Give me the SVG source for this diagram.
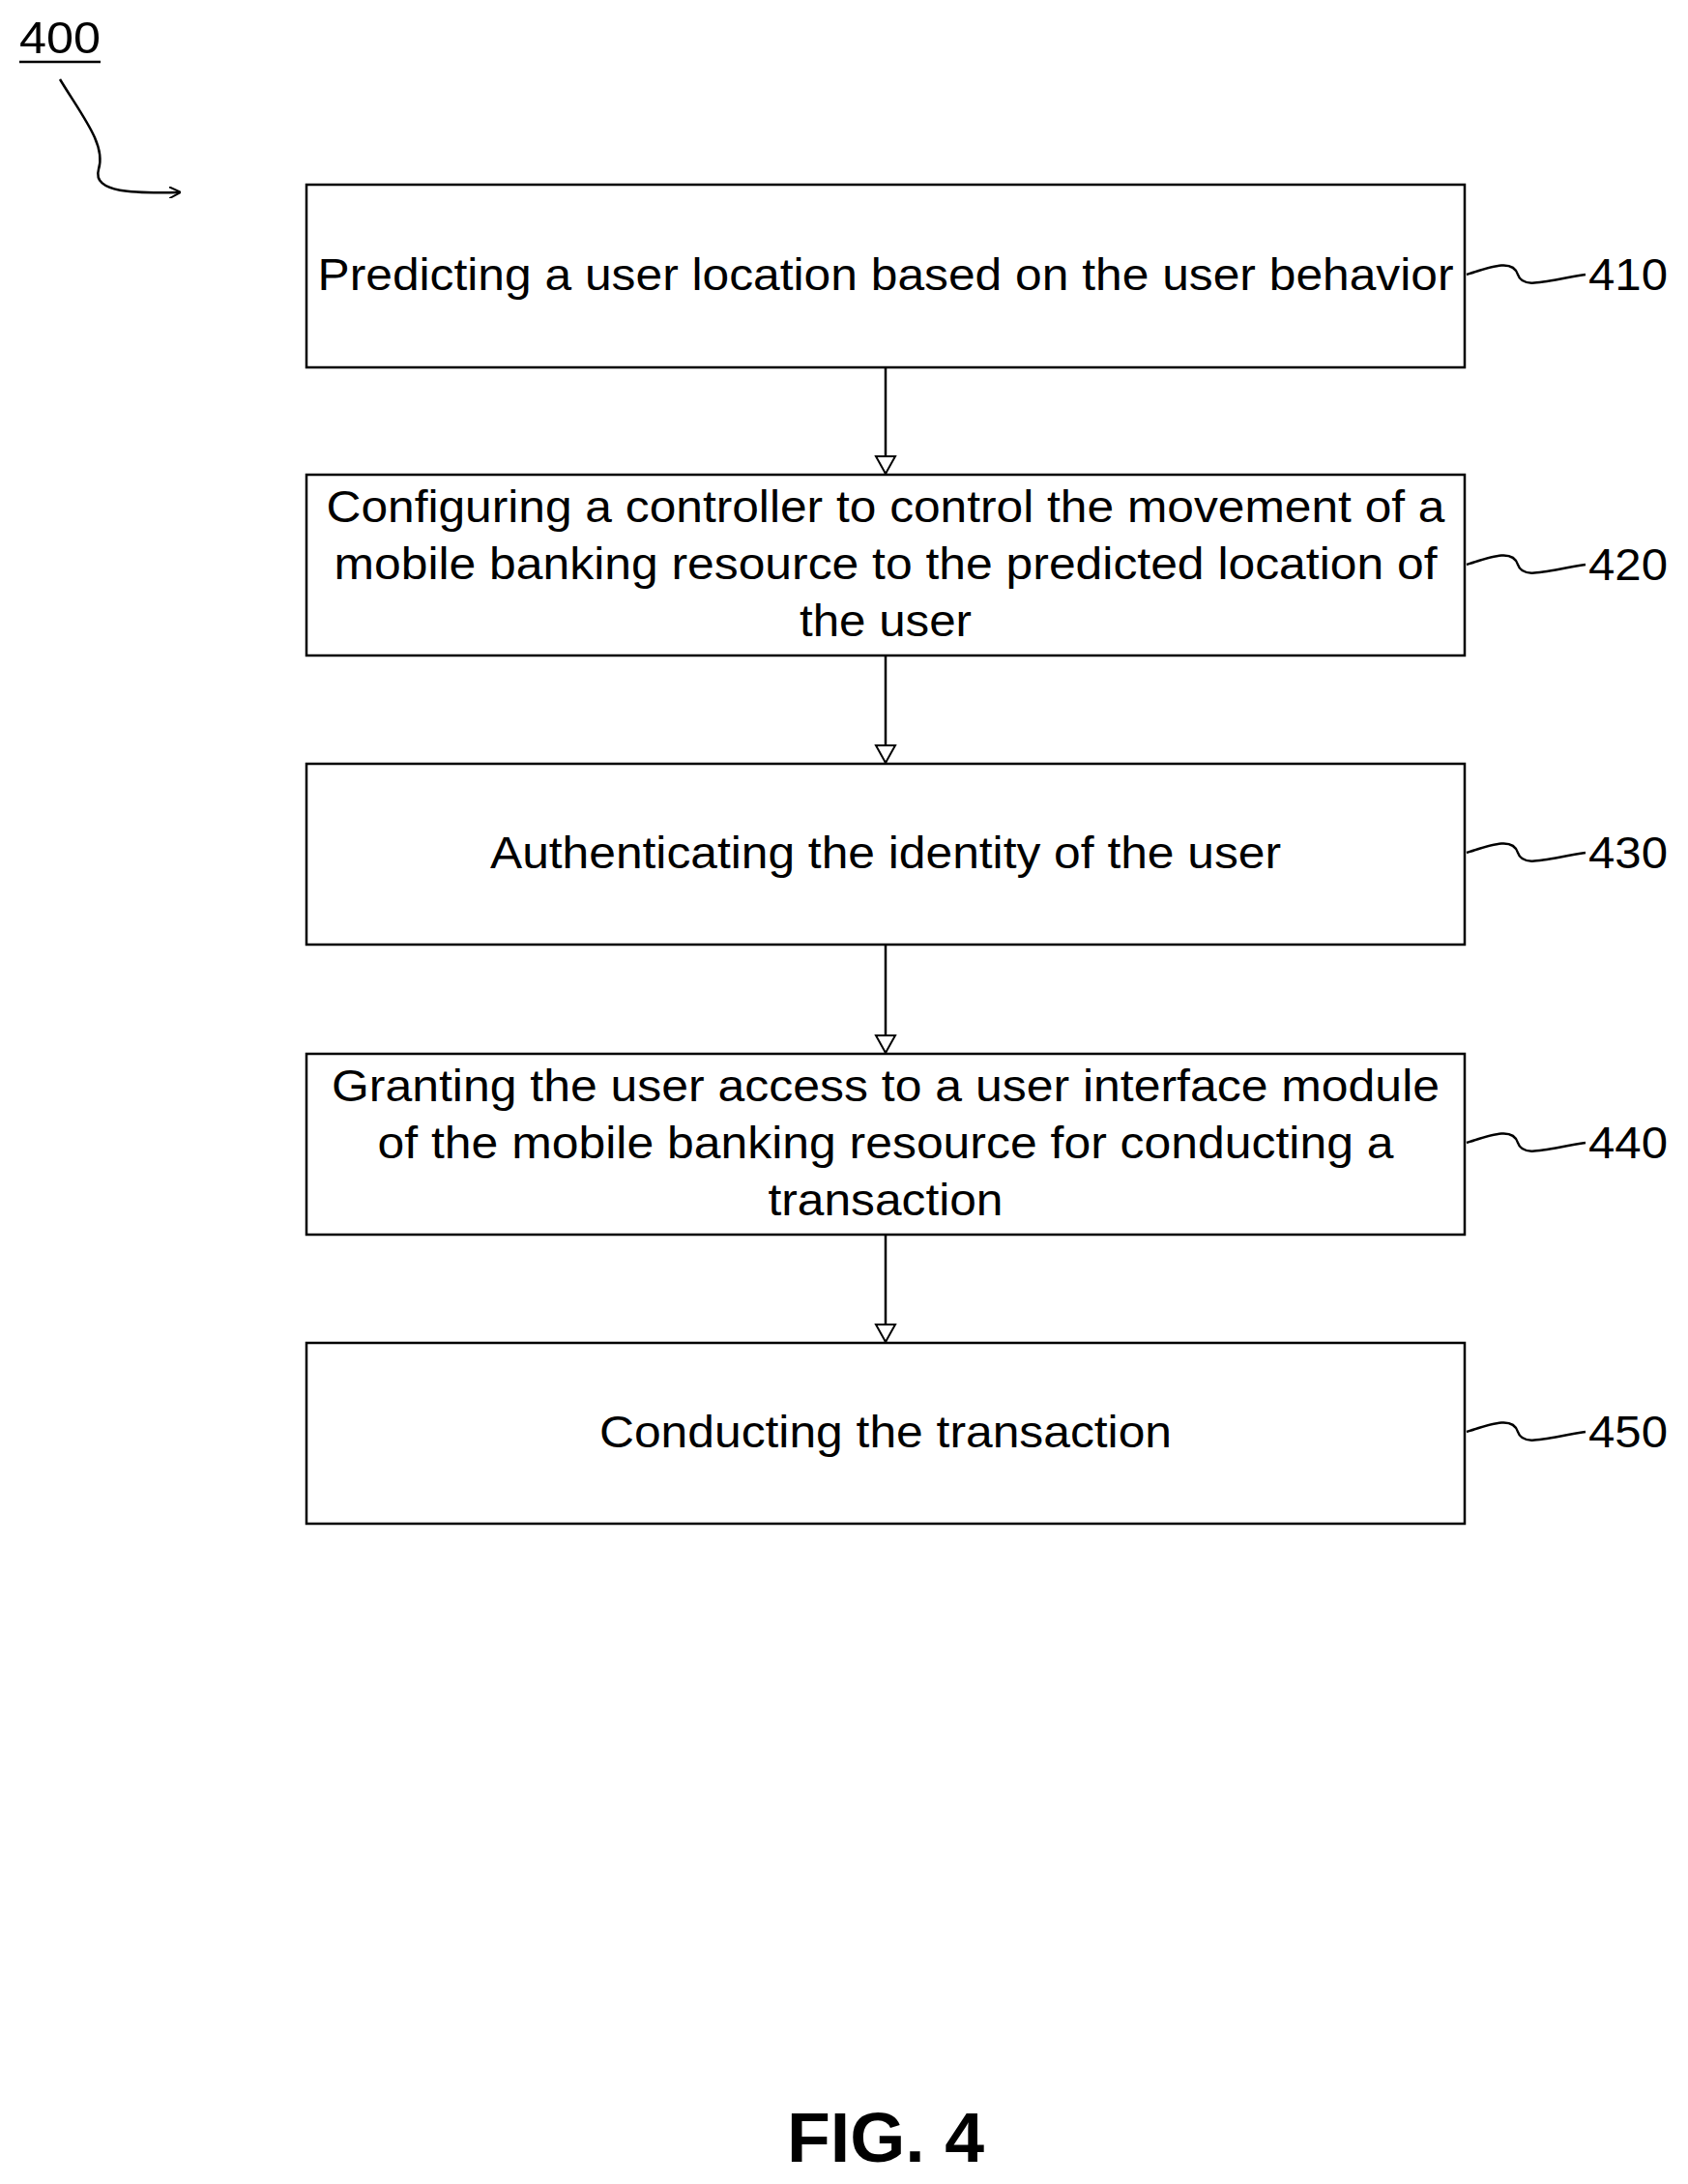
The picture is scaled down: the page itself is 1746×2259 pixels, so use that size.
<svg xmlns="http://www.w3.org/2000/svg" width="1746" height="2259" viewBox="0 0 1746 2259">
<style>
.box{fill:#fff;stroke:#000;stroke-width:2.5}
.t{font-family:"Liberation Sans",Arial,sans-serif;font-size:46px;fill:#000;text-anchor:middle}
.l{font-family:"Liberation Sans",Arial,sans-serif;font-size:46px;fill:#000}
.c{fill:none;stroke:#000;stroke-width:2.5}
</style>
<defs><marker id="a" markerWidth="12" markerHeight="12" refX="10" refY="6" orient="auto" markerUnits="userSpaceOnUse" viewBox="0 0 12 12"><path d="M0,0 L12,6 L0,12" fill="none" stroke="#000" stroke-width="2"/></marker>
<marker id="b" markerWidth="24" markerHeight="24" refX="20" refY="12" orient="auto" markerUnits="userSpaceOnUse"><path d="M2,2 L20,12 L2,22 Z" fill="#fff" stroke="#000" stroke-width="2"/></marker></defs>
<g id="ref400"><text class="l" x="20" y="55" textLength="84" lengthAdjust="spacingAndGlyphs">400</text><line x1="20" y1="64" x2="104" y2="64" stroke="#000" stroke-width="2.5"/>
<path class="c" d="M62,82 C85,120 110,150 102,175 C95,200 140,200 185,199" marker-end="url(#a)"/></g>
<g id="n410"><rect class="box" x="317" y="191" width="1198" height="189"/><text class="t" x="916" y="300" textLength="1175" lengthAdjust="spacingAndGlyphs">Predicting a user location based on the user behavior</text></g>
<g id="n420"><rect class="box" x="317" y="491" width="1198" height="187"/><text class="t" x="916" y="540" textLength="1157" lengthAdjust="spacingAndGlyphs">Configuring a controller to control the movement of a</text><text class="t" x="916" y="599" textLength="1141" lengthAdjust="spacingAndGlyphs">mobile banking resource to the predicted location of</text><text class="t" x="916" y="658" textLength="178" lengthAdjust="spacingAndGlyphs">the user</text></g>
<g id="n430"><rect class="box" x="317" y="790" width="1198" height="187"/><text class="t" x="916" y="898" textLength="818" lengthAdjust="spacingAndGlyphs">Authenticating the identity of the user</text></g>
<g id="n440"><rect class="box" x="317" y="1090" width="1198" height="187"/><text class="t" x="916" y="1139" textLength="1146" lengthAdjust="spacingAndGlyphs">Granting the user access to a user interface module</text><text class="t" x="916" y="1198" textLength="1051" lengthAdjust="spacingAndGlyphs">of the mobile banking resource for conducting a</text><text class="t" x="916" y="1257" textLength="243" lengthAdjust="spacingAndGlyphs">transaction</text></g>
<g id="n450"><rect class="box" x="317" y="1389" width="1198" height="187"/><text class="t" x="916" y="1497" textLength="592" lengthAdjust="spacingAndGlyphs">Conducting the transaction</text></g>
<g id="labels">
<path class="c" d="M1517,284 C1545,275 1565,268 1570,284 C1575,300 1600,290 1640,284"/><text class="l" x="1643" y="300" textLength="82" lengthAdjust="spacingAndGlyphs">410</text>
<path class="c" d="M1517,584 C1545,575 1565,568 1570,584 C1575,600 1600,590 1640,584"/><text class="l" x="1643" y="600" textLength="82" lengthAdjust="spacingAndGlyphs">420</text>
<path class="c" d="M1517,882 C1545,873 1565,866 1570,882 C1575,898 1600,888 1640,882"/><text class="l" x="1643" y="898" textLength="82" lengthAdjust="spacingAndGlyphs">430</text>
<path class="c" d="M1517,1182 C1545,1173 1565,1166 1570,1182 C1575,1198 1600,1188 1640,1182"/><text class="l" x="1643" y="1198" textLength="82" lengthAdjust="spacingAndGlyphs">440</text>
<path class="c" d="M1517,1481 C1545,1472 1565,1465 1570,1481 C1575,1497 1600,1487 1640,1481"/><text class="l" x="1643" y="1497" textLength="82" lengthAdjust="spacingAndGlyphs">450</text>
</g>
<g id="connectors">
<line class="c" x1="916" y1="380" x2="916" y2="490" marker-end="url(#b)"/>
<line class="c" x1="916" y1="678" x2="916" y2="789" marker-end="url(#b)"/>
<line class="c" x1="916" y1="977" x2="916" y2="1089" marker-end="url(#b)"/>
<line class="c" x1="916" y1="1277" x2="916" y2="1388" marker-end="url(#b)"/>
</g>
<text x="916" y="2236" font-family="Liberation Sans,Arial,sans-serif" font-size="72" font-weight="bold" text-anchor="middle" textLength="204" lengthAdjust="spacingAndGlyphs">FIG. 4</text>
</svg>
